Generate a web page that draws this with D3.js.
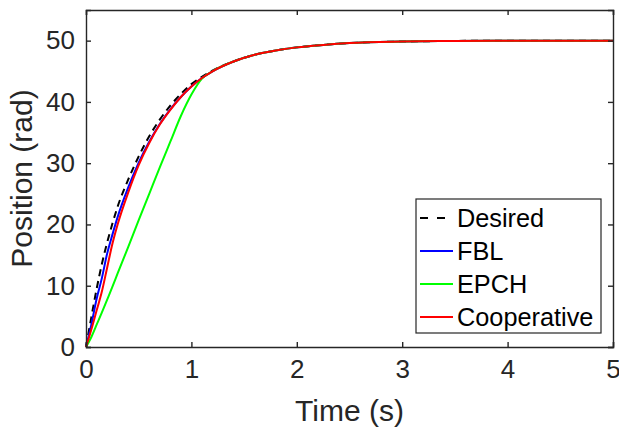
<!DOCTYPE html>
<html>
<head>
<meta charset="utf-8">
<script src="https://cdn.jsdelivr.net/npm/d3@7"></script>
<style>
    body { margin: 0; background: white; }
    svg { display: block; font-family: "Liberation Sans", Arial, Helvetica, sans-serif; }
</style>
</head>
<body>
<div id="chart"></div>
<script>
    // time samples (s)
    var time = [0, 0.05, 0.1, 0.15, 0.2, 0.25, 0.3, 0.4, 0.5, 0.6, 0.7, 0.8, 0.9, 1.0, 1.1, 1.2, 1.4, 1.6, 1.8, 2.0, 2.25, 2.5, 3.0, 3.5, 4.0, 4.5, 5.0];
    // position values (rad)
    var desired =     [0, 4.8, 9.4, 13.5, 17.0, 20.1, 22.9, 27.3, 31.1, 34.4, 37.1, 39.4, 41.3, 42.9, 44.1, 45.1, 46.6, 47.7, 48.4, 48.9, 49.3, 49.6, 49.85, 49.95, 50, 50, 50];
    var fbl =         [0, 3.6, 7.8, 11.2, 15.2, 18.3, 21.2, 26.0, 30.1, 33.5, 36.4, 38.8, 40.8, 42.5, 43.9, 45.0, 46.6, 47.7, 48.4, 48.9, 49.3, 49.6, 49.85, 49.95, 50, 50, 50];
    var epch =        [0, 1.6, 3.6, 5.6, 7.7, 9.8, 12.0, 16.3, 20.7, 25.0, 29.3, 33.5, 37.7, 41.2, 43.8, 45.0, 46.6, 47.7, 48.4, 48.9, 49.3, 49.6, 49.85, 49.95, 50, 50, 50];
    var cooperative = [0, 2.8, 5.9, 9.0, 12.9, 16.8, 20.0, 25.2, 29.7, 33.3, 36.3, 38.7, 40.8, 42.5, 43.9, 45.0, 46.6, 47.7, 48.4, 48.9, 49.3, 49.6, 49.85, 49.95, 50, 50, 50];

    var seriesNames = ["Desired", "FBL", "EPCH", "Cooperative"];
    var seriesValues = [desired, fbl, epch, cooperative];
    var seriesColors = ["#000000", "#0000ff", "#00ff00", "#ff0000"];
    var seriesDash = ["7,5", null, null, null];

    var xTicks = [0, 1, 2, 3, 4, 5];
    var yTicks = [0, 10, 20, 30, 40, 50];

    var width = 619, height = 430;
    var margin = { top: 10, right: 6, bottom: 83, left: 86 };
    var axisColor = "#262626";

    var svg = d3.select("#chart").append("svg")
        .attr("width", width)
        .attr("height", height);

    var x = d3.scaleLinear().domain([0, 5]).range([margin.left, width - margin.right]);
    var y = d3.scaleLinear().domain([0, 55]).range([height - margin.bottom, margin.top]);

    var line = d3.line()
        .x(function (d) { return x(d[0]); })
        .y(function (d) { return y(d[1]); })
        .curve(d3.curveMonotoneX);

    var plot = svg.append("g");
    seriesValues.forEach(function (vals, i) {
        var pts = time.map(function (t, j) { return [t, vals[j]]; });
        plot.append("path")
            .datum(pts)
            .attr("d", line)
            .attr("fill", "none")
            .attr("stroke", seriesColors[i])
            .attr("stroke-width", 2)
            .attr("stroke-dasharray", seriesDash[i]);
    });

    // axes (ticks inward, mirrored on top and right)
    var fs = 26;
    var axBottom = svg.append("g").attr("transform", "translate(0," + y(0) + ")")
        .call(d3.axisBottom(x).tickValues(xTicks).tickSize(-5).tickPadding(13).tickFormat(d3.format("d")));
    var axTop = svg.append("g").attr("transform", "translate(0," + y(55) + ")")
        .call(d3.axisTop(x).tickValues(xTicks).tickSize(-5).tickFormat(""));
    var axLeft = svg.append("g").attr("transform", "translate(" + x(0) + ",0)")
        .call(d3.axisLeft(y).tickValues(yTicks).tickSize(-5).tickPadding(11).tickFormat(d3.format("d")));
    var axRight = svg.append("g").attr("transform", "translate(" + x(5) + ",0)")
        .call(d3.axisRight(y).tickValues(yTicks).tickSize(-5).tickFormat(""));

    [axBottom, axTop, axLeft, axRight].forEach(function (g) {
        g.select(".domain").attr("stroke", axisColor).attr("stroke-width", 1.4);
        g.selectAll(".tick line").attr("stroke", axisColor).attr("stroke-width", 1.4);
        g.selectAll(".tick text").attr("fill", axisColor).style("font-size", fs + "px")
            .style("font-family", "'Liberation Sans', Arial, sans-serif");
    });

    svg.append("text")
        .attr("x", (x(0) + x(5)) / 2)
        .attr("y", 421)
        .attr("text-anchor", "middle")
        .attr("fill", axisColor)
        .style("font-size", "30px")
        .text("Time (s)");

    svg.append("text")
        .attr("transform", "translate(32," + (y(0) + y(55)) / 2 + ") rotate(-90)")
        .attr("text-anchor", "middle")
        .attr("fill", axisColor)
        .style("font-size", "30px")
        .text("Position (rad)");

    // legend
    var legend = svg.append("g").attr("transform", "translate(416,199)");
    legend.append("rect")
        .attr("width", 185)
        .attr("height", 134)
        .attr("fill", "white")
        .attr("stroke", axisColor)
        .attr("stroke-width", 1.2);

    var rows = legend.selectAll(".legends").data(seriesNames)
        .enter().append("g").classed("legends", true)
        .attr("transform", function (d, i) { return "translate(0," + (19 + i * 33) + ")"; });
    rows.append("line")
        .attr("x1", 4).attr("x2", 37)
        .attr("stroke", function (d, i) { return seriesColors[i]; })
        .attr("stroke-width", 2)
        .attr("stroke-dasharray", function (d, i) { return seriesDash[i] ? "8,9" : null; });
    rows.append("text")
        .attr("x", 41)
        .attr("y", 9)
        .attr("fill", "#000")
        .style("font-size", "25.3px")
        .text(function (d) { return d; });
</script>
</body>
</html>
